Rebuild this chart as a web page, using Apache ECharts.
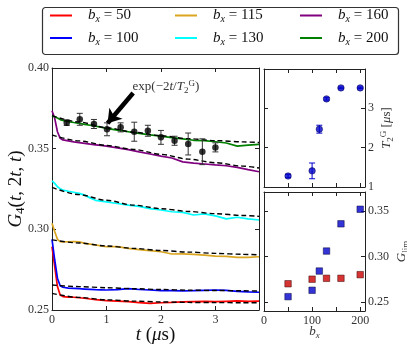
<!DOCTYPE html>
<html>
<head>
<meta charset="utf-8">
<script src="https://cdn.jsdelivr.net/npm/echarts@6/dist/echarts.min.js"></script>
<style>
  html, body { margin: 0; padding: 0; background: #fff; }
  #chart { width: 407px; height: 351px; }
</style>
</head>
<body>
<div id="chart"></div>
<script>
// time grid of the simulated curves (µs)
const tCurve = [0, 0.05, 0.1, 0.15, 0.2, 0.3, 0.4, 0.5, 0.6, 0.7, 0.8, 0.9, 1.0, 1.2, 1.4, 1.6, 1.8, 2.0, 2.2, 2.4, 2.6, 2.8, 3.0, 3.2, 3.4, 3.6, 3.8]
const g50  = [0.2892, 0.2769, 0.2645, 0.2593, 0.2583, 0.2580, 0.2579, 0.2576, 0.2573, 0.2568, 0.2564, 0.2561, 0.2558, 0.2555, 0.2552, 0.2546, 0.2541, 0.2545, 0.2547, 0.2550, 0.2552, 0.2553, 0.2552, 0.2554, 0.2556, 0.2554, 0.2555]
const g100 = [0.2938, 0.2810, 0.2697, 0.2650, 0.2641, 0.2636, 0.2634, 0.2632, 0.2630, 0.2628, 0.2626, 0.2625, 0.2624, 0.2626, 0.2632, 0.2627, 0.2624, 0.2620, 0.2620, 0.2619, 0.2620, 0.2622, 0.2624, 0.2622, 0.2616, 0.2612, 0.2610]
const g115 = [0.3037, 0.2986, 0.2938, 0.2924, 0.2922, 0.2923, 0.2924, 0.2923, 0.2913, 0.2908, 0.2903, 0.2897, 0.2892, 0.2893, 0.2882, 0.2874, 0.2868, 0.2861, 0.2847, 0.2848, 0.2845, 0.2840, 0.2834, 0.2832, 0.2826, 0.2826, 0.2830]
const g130 = [0.3301, 0.3285, 0.3264, 0.3252, 0.3244, 0.3236, 0.3230, 0.3223, 0.3212, 0.3195, 0.3180, 0.3175, 0.3170, 0.3160, 0.3150, 0.3142, 0.3128, 0.3120, 0.3109, 0.3105, 0.3089, 0.3096, 0.3083, 0.3065, 0.3075, 0.3065, 0.3058]
const g160 = [0.3735, 0.3688, 0.3605, 0.3564, 0.3554, 0.3548, 0.3542, 0.3537, 0.3533, 0.3528, 0.3524, 0.3520, 0.3516, 0.3505, 0.3494, 0.3480, 0.3467, 0.3454, 0.3442, 0.3418, 0.3410, 0.3405, 0.3399, 0.3394, 0.3384, 0.3370, 0.3357]
const g200 = [0.3703, 0.3698, 0.3690, 0.3680, 0.3675, 0.3668, 0.3662, 0.3657, 0.3651, 0.3645, 0.3640, 0.3633, 0.3626, 0.3615, 0.3605, 0.3595, 0.3586, 0.3578, 0.3568, 0.3561, 0.3552, 0.3550, 0.3543, 0.3535, 0.3516, 0.3522, 0.3527]

// dashed exponential fits
const tFit = [0, 0.5, 1, 1.5, 2, 2.5, 3, 3.5, 3.8]
const fit50  = [0.2603, 0.2578, 0.2563, 0.2555, 0.2550, 0.2547, 0.2546, 0.2545, 0.2545]
const fit100 = [0.2655, 0.2645, 0.2638, 0.2632, 0.2627, 0.2623, 0.2621, 0.2619, 0.2618]
const fit115 = [0.2935, 0.2915, 0.2897, 0.2882, 0.2869, 0.2859, 0.2851, 0.2845, 0.2842]
const fit130 = [0.3260, 0.3215, 0.3180, 0.3150, 0.3128, 0.3111, 0.3097, 0.3086, 0.3080]
const fit160 = [0.3585, 0.3548, 0.3520, 0.3495, 0.3465, 0.3435, 0.3413, 0.3392, 0.3380]
const fit200 = [0.3705, 0.3665, 0.3630, 0.3602, 0.3580, 0.3562, 0.3550, 0.3542, 0.3538]

// measured points with error bars
const tPts   = [0.27, 0.51, 0.77, 1.01, 1.26, 1.51, 1.76, 2.0, 2.25, 2.5, 2.76, 3.0]
const gPts   = [0.3661, 0.3682, 0.3653, 0.3620, 0.3632, 0.3605, 0.3611, 0.3570, 0.3549, 0.3529, 0.3481, 0.3508]
const gPtsErr = [0.0017, 0.0037, 0.0028, 0.0040, 0.0028, 0.0059, 0.0034, 0.0043, 0.0028, 0.0068, 0.0080, 0.0028]

// right panels
const bxVals = [50, 100, 115, 130, 160, 200]
const t2G    = [1.28, 1.41, 2.47, 3.24, 3.52, 3.52]
const t2GErr = [0.04, 0.20, 0.10, 0.03, 0.02, 0.02]
const gLimBlue = [0.2558, 0.2628, 0.2840, 0.3060, 0.3360, 0.3520]
const bxRed    = [50, 100, 130, 160, 200]
const gLimRed  = [0.2700, 0.2750, 0.2760, 0.2760, 0.2800]

const glimTicks = [0.25, 0.30, 0.35]

const SERIF = 'Liberation Serif, DejaVu Serif, serif'
const INK = '#222'

const curves = [
  ['b50', g50, fit50, '#ff0000'],
  ['b100', g100, fit100, '#0000ff'],
  ['b115', g115, fit115, '#daa520'],
  ['b130', g130, fit130, '#00ffff'],
  ['b160', g160, fit160, '#800080'],
  ['b200', g200, fit200, '#008000']
]

const chart = echarts.init(document.getElementById('chart'))

function errBars(color, cap) {
  return function (params, api) {
    const x = api.value(0), y = api.value(1), e = api.value(2)
    const lo = api.coord([x, y - e]), hi = api.coord([x, y + e])
    const st = { stroke: color, lineWidth: 1 }
    return {
      type: 'group',
      children: [
        { type: 'line', shape: { x1: lo[0], y1: lo[1], x2: hi[0], y2: hi[1] }, style: st },
        { type: 'line', shape: { x1: lo[0] - cap, y1: lo[1], x2: lo[0] + cap, y2: lo[1] }, style: st },
        { type: 'line', shape: { x1: hi[0] - cap, y1: hi[1], x2: hi[0] + cap, y2: hi[1] }, style: st }
      ]
    }
  }
}

const line = { show: true, onZero: false, lineStyle: { color: INK, width: 1 } }
const tick = { inside: true, length: 4, lineStyle: { color: INK, width: 1 } }
const lbl = { fontFamily: SERIF, fontSize: 12, color: '#333' }

function ax(extra) {
  return Object.assign({
    type: 'value', axisLine: line, axisTick: tick, splitLine: { show: false },
    axisLabel: { show: false }, nameMoveOverlap: false
  }, extra)
}

const legendRich = {
  i: { fontFamily: SERIF, fontStyle: 'italic', fontSize: 15, lineHeight: 18, color: '#111', padding: [0, 0, 0, 11] },
  s: { fontFamily: SERIF, fontStyle: 'italic', fontSize: 10, lineHeight: 11, color: '#111', verticalAlign: 'bottom' },
  n: { fontFamily: SERIF, fontSize: 15, lineHeight: 18, color: '#111' }
}
function legendAt(left, names) {
  return {
    left, top: 8, orient: 'vertical', padding: 0, itemGap: 6, itemWidth: 22, itemHeight: 2,
    icon: 'rect', selectedMode: false, data: names,
    formatter: n => '{i|b}{s|x}{n| = ' + n.slice(1) + '}',
    textStyle: { rich: legendRich }
  }
}

const bigRich = {
  i: { fontFamily: SERIF, fontStyle: 'italic', fontSize: 19, lineHeight: 22, color: '#111' },
  n: { fontFamily: SERIF, fontSize: 19, lineHeight: 22, color: '#111' },
  s: { fontFamily: SERIF, fontSize: 13, lineHeight: 12, color: '#111', verticalAlign: 'bottom' }
}
const smallRich = {
  i: { fontFamily: SERIF, fontStyle: 'italic', fontSize: 13, lineHeight: 16, color: '#333' },
  n: { fontFamily: SERIF, fontSize: 13, lineHeight: 16, color: '#333' },
  s: { fontFamily: SERIF, fontStyle: 'italic', fontSize: 9, lineHeight: 9, color: '#333', verticalAlign: 'bottom' },
  sn: { fontFamily: SERIF, fontSize: 9, lineHeight: 9, color: '#333', verticalAlign: 'bottom' },
  sp: { fontFamily: SERIF, fontSize: 9, lineHeight: 9, color: '#333', verticalAlign: 'top' }
}

const series = []
curves.forEach(([name, vals, , color]) => {
  series.push({
    name, type: 'line', xAxisIndex: 0, yAxisIndex: 0, symbol: 'none', z: 2,
    data: tCurve.map((t, i) => [t, vals[i]]),
    lineStyle: { color, width: 1.7 }, itemStyle: { color }
  })
})
curves.forEach(([, , fit]) => {
  series.push({
    type: 'line', xAxisIndex: 0, yAxisIndex: 0, symbol: 'none', z: 3, smooth: 0.3, smoothMonotone: 'x',
    data: tFit.map((t, i) => [t, fit[i]]),
    lineStyle: { color: '#000', width: 1.4, type: [5, 3] }
  })
})
series.push({
  type: 'custom', xAxisIndex: 0, yAxisIndex: 0, z: 4,
  renderItem: errBars('#333', 3),
  data: tPts.map((t, i) => [t, gPts[i], gPtsErr[i]])
})
series.push({
  type: 'scatter', xAxisIndex: 0, yAxisIndex: 0, z: 5, symbolSize: 6.5,
  itemStyle: { color: '#000' },
  data: tPts.map((t, i) => [t, gPts[i]]),
  markLine: {
    silent: true, animation: false, symbol: ['none', 'arrow'], symbolSize: 13,
    lineStyle: { color: '#000', width: 4.5, type: 'solid' }, label: { show: false },
    data: [[{ coord: [1.49, 0.3845] }, { coord: [1.02, 0.3658] }]]
  },
  markPoint: {
    silent: true, animation: false, symbol: 'circle', symbolSize: 1,
    itemStyle: { color: 'rgba(0,0,0,0)' },
    label: {
      show: true, position: 'right', distance: 0,
      formatter: '{n|exp(\u22122}{i|t}{n|/}{i|T}{sn|2}{sp|G}{n|)}', rich: smallRich
    },
    data: [{ coord: [1.47, 0.3882] }]
  }
})
series.push({
  type: 'custom', xAxisIndex: 2, yAxisIndex: 2, z: 4,
  renderItem: errBars('#0000cc', 3),
  data: bxVals.map((b, i) => [b, t2G[i], t2GErr[i]])
})
series.push({
  type: 'scatter', xAxisIndex: 2, yAxisIndex: 2, z: 5, symbolSize: 6.5,
  itemStyle: { color: '#0000cc', borderColor: '#000044', borderWidth: 0.6 },
  data: bxVals.map((b, i) => [b, t2G[i]])
})
series.push({
  type: 'scatter', xAxisIndex: 4, yAxisIndex: 4, z: 5, symbol: 'rect', symbolSize: 6.5,
  itemStyle: { color: '#cc0000', borderColor: '#330000', borderWidth: 0.6 },
  data: bxRed.map((b, i) => [b, gLimRed[i]])
})
series.push({
  type: 'scatter', xAxisIndex: 4, yAxisIndex: 4, z: 5, symbol: 'rect', symbolSize: 6.5,
  itemStyle: { color: '#0000cc', borderColor: '#000033', borderWidth: 0.6 },
  data: bxVals.map((b, i) => [b, gLimBlue[i]])
})

chart.setOption({
  animation: false,
  backgroundColor: '#fff',
  legend: [
    legendAt(50, ['b50', 'b100']),
    legendAt(175, ['b115', 'b130']),
    legendAt(300, ['b160', 'b200'])
  ],
  graphic: [{
    type: 'rect', left: 40, top: 5, z: -1,
    shape: { width: 356, height: 47, r: 3 },
    style: { fill: 'none', stroke: '#333', lineWidth: 1.2 }
  }],
  grid: [
    { left: 52, top: 68, width: 207, height: 242, containLabel: false, outerBoundsMode: 'none' },
    { left: 264, top: 69, width: 101, height: 118, containLabel: false, outerBoundsMode: 'none' },
    { left: 264, top: 192, width: 101, height: 119, containLabel: false, outerBoundsMode: 'none' }
  ],
  xAxis: [
    ax({
      gridIndex: 0, position: 'bottom', min: 0, max: 3.8, interval: 1,
      axisLabel: Object.assign({ show: true, margin: 4, showMaxLabel: false,
        formatter: v => Number.isInteger(v) ? String(v) : '' }, lbl),
      name: '{i|t}{n| (}{i|\u03bc}{n|s)}', nameLocation: 'middle', nameGap: 14,
      nameTextStyle: { rich: bigRich }
    }),
    ax({ gridIndex: 0, position: 'top', min: 0, max: 3.8, interval: 1 }),
    ax({ gridIndex: 1, position: 'bottom', min: 0, max: 210, interval: 50 }),
    ax({ gridIndex: 1, position: 'top', min: 0, max: 210, interval: 50 }),
    ax({
      gridIndex: 2, position: 'bottom', min: 0, max: 210, interval: 50,
      axisLabel: Object.assign({ show: true, margin: 4, showMaxLabel: false,
        formatter: v => v % 100 === 0 ? String(v) : '' }, lbl),
      name: '{i|b}{s|x}', nameLocation: 'middle', nameGap: 13,
      nameTextStyle: { rich: smallRich }
    }),
    ax({ gridIndex: 2, position: 'top', min: 0, max: 210, interval: 50 })
  ],
  yAxis: [
    ax({
      gridIndex: 0, position: 'left', min: 0.25, max: 0.40, interval: 0.05,
      axisLabel: Object.assign({ show: true, margin: 3, formatter: v => v.toFixed(2) }, lbl),
      name: '{i|G}{s|4}{n|(}{i|t}{n|, 2}{i|t}{n|, }{i|t}{n|)}', nameLocation: 'middle', nameGap: 25, nameRotate: 90,
      nameTextStyle: { rich: bigRich }
    }),
    ax({ gridIndex: 0, position: 'right', min: 0.25, max: 0.40, interval: 0.05 }),
    ax({
      gridIndex: 1, position: 'right', min: 1, max: 4, interval: 1,
      axisLabel: Object.assign({ show: true, margin: 3, formatter: v => v < 4 ? String(v) : '' }, lbl),
      name: '{i|T}{sn|2}{sp|G}{n| [}{i|\u03bc}{n|s]}', nameLocation: 'middle', nameGap: 14, nameRotate: 90,
      nameTextStyle: { rich: smallRich }
    }),
    ax({ gridIndex: 1, position: 'left', min: 1, max: 4, interval: 1 }),
    ax({
      gridIndex: 2, position: 'right', min: 0.24, max: 0.371,
      axisTick: Object.assign({ customValues: glimTicks }, tick),
      axisLabel: Object.assign({ show: true, margin: 3, customValues: glimTicks, formatter: v => v.toFixed(2) }, lbl),
      name: '{i|G}{sn|lim}', nameLocation: 'middle', nameGap: 29, nameRotate: 90,
      nameTextStyle: { rich: smallRich }
    }),
    ax({
      gridIndex: 2, position: 'left', min: 0.24, max: 0.371,
      axisTick: Object.assign({ customValues: glimTicks }, tick)
    })
  ],
  series
})
</script>
</body>
</html>
